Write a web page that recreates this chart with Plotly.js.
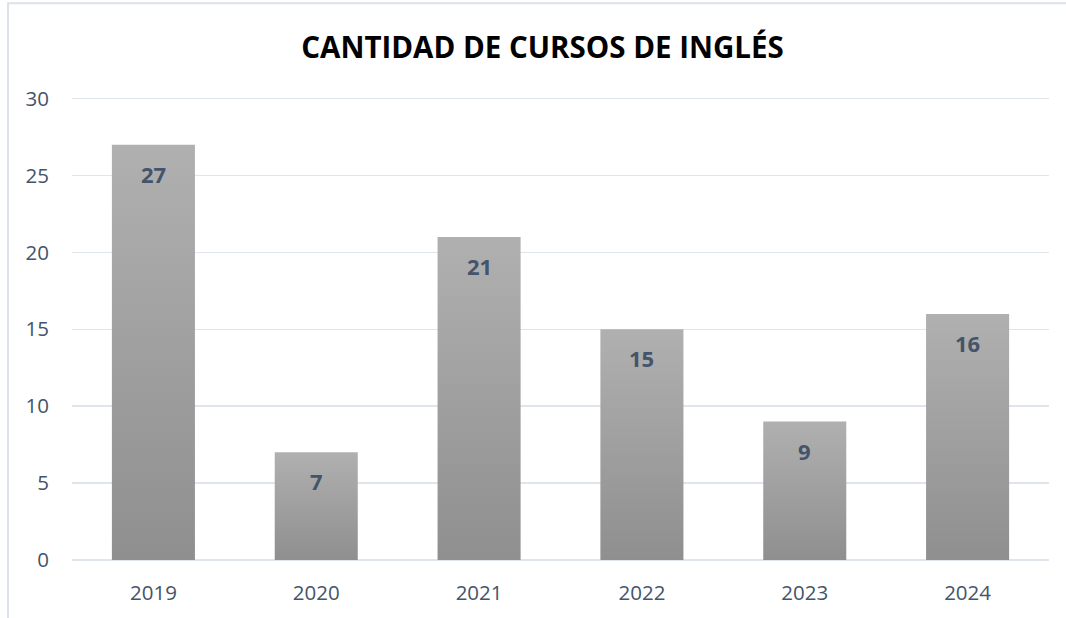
<!DOCTYPE html>
<html>
<head>
<meta charset="utf-8">
<script src="https://cdn.plot.ly/plotly-3.0.1.min.js"></script>
<style>
html,body{margin:0;padding:0;background:#fff;}
#chart{width:1066px;height:618px;}
</style>
</head>
<body>
<div id="chart"></div>
<script>
const years = ['2019','2020','2021','2022','2023','2024'];
const cursos = [27, 7, 21, 15, 9, 16];
const yTicks = [0, 5, 10, 15, 20, 25, 30];
const titleText = 'CANTIDAD DE CURSOS DE INGLÉS';

const FONT = '"Open Sans", "Noto Sans", sans-serif';
const SLATE = '#44546a';

const trace = {
  type: 'bar',
  x: years,
  y: cursos,
  marker: {color: '#a0a0a0', line: {width: 0}},
  hoverinfo: 'skip'
};

const annotations = years.map((yr, i) => ({
  x: i, y: cursos[i], xref: 'x', yref: 'y',
  text: String(cursos[i]),
  showarrow: false,
  yanchor: 'middle',
  yshift: -29,
  font: {family: FONT, size: 22, color: SLATE, weight: 'bold'}
}));

const layout = {
  width: 1066, height: 618,
  margin: {l: 72, r: 17, t: 94.4, b: 58},
  paper_bgcolor: '#ffffff',
  plot_bgcolor: '#ffffff',
  bargap: 0.49,
  showlegend: false,
  title: {
    text: titleText,
    font: {family: FONT, size: 29.5, color: '#000000', weight: 'bold'},
    xref: 'container', x: 542.5/1066, xanchor: 'center',
    yref: 'container', y: 1 - 48/618, yanchor: 'middle'
  },
  xaxis: {
    type: 'category',
    range: [-0.5, years.length - 0.5],
    autorange: false,
    showgrid: false,
    zeroline: false,
    showline: false,
    ticks: '',
    ticklabelstandoff: 18,
    tickfont: {family: FONT, size: 20.5, color: SLATE}
  },
  yaxis: {
    range: [0, 30.3],
    autorange: false,
    tickvals: yTicks,
    ticktext: yTicks.map(String),
    showgrid: true,
    gridcolor: '#e0e5eb',
    gridwidth: 1.6,
    zeroline: true,
    zerolinecolor: '#e0e5eb',
    zerolinewidth: 1.6,
    showline: false,
    ticks: '',
    ticklabelstandoff: 22,
    tickfont: {family: FONT, size: 20.5, color: SLATE}
  },
  annotations: annotations,
  shapes: [{
    type: 'path', xref: 'paper', yref: 'paper',
    path: 'M -0.0655,-0.2 L -0.0655,1.195 L 1.1,1.195',
    line: {color: '#dde2e8', width: 2},
    layer: 'below'
  }]
};

Plotly.newPlot('chart', [trace], layout, {displayModeBar: false, staticPlot: true}).then(gd => {
  const svg = gd.querySelector('svg.main-svg');
  const ns = 'http://www.w3.org/2000/svg';
  let defs = svg.querySelector('defs');
  if (!defs) { defs = document.createElementNS(ns, 'defs'); svg.insertBefore(defs, svg.firstChild); }
  const lg = document.createElementNS(ns, 'linearGradient');
  lg.setAttribute('id', 'barGrad');
  lg.setAttribute('x1', '0'); lg.setAttribute('y1', '0');
  lg.setAttribute('x2', '0'); lg.setAttribute('y2', '1');
  [['0', '#b0b0b0'], ['1', '#8f8f8f']].forEach(([o, c]) => {
    const s = document.createElementNS(ns, 'stop');
    s.setAttribute('offset', o); s.setAttribute('stop-color', c);
    lg.appendChild(s);
  });
  defs.appendChild(lg);
  gd.querySelectorAll('.barlayer .point path').forEach(p => {
    p.style.fill = 'url(#barGrad)';
  });
});
</script>
</body>
</html>
